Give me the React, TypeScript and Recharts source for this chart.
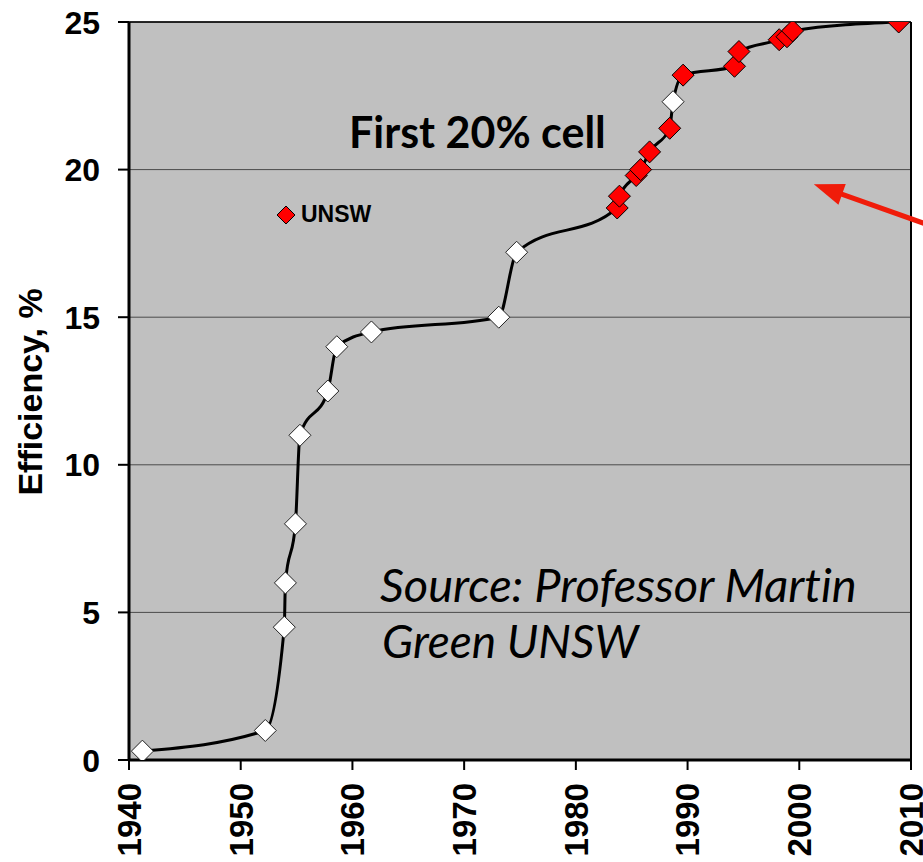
import React from 'react';
import {
  ComposedChart,
  Line,
  Scatter,
  XAxis,
  YAxis,
  CartesianGrid,
  ReferenceLine,
  Legend,
} from 'recharts';

// ---- data ----
const otherYears = [1941.2, 1952.2, 1953.9, 1954.0, 1954.9, 1955.3, 1957.8, 1958.6, 1961.7, 1973.1, 1974.7, 1988.7];
const otherEff = [0.3, 1.0, 4.5, 6.0, 8.0, 11.0, 12.5, 14.0, 14.5, 15.0, 17.2, 22.3];

const unswYears = [1983.7, 1983.9, 1985.4, 1985.8, 1986.6, 1988.4, 1989.6, 1994.2, 1994.6, 1998.2, 1998.9, 1999.4, 2008.9];
const unswEff = [18.7, 19.1, 19.8, 20.0, 20.6, 21.4, 23.2, 23.5, 24.0, 24.4, 24.5, 24.7, 25.0];

const xTicks = [1940, 1950, 1960, 1970, 1980, 1990, 2000, 2010];
const yTicks = [0, 5, 10, 15, 20, 25];

const arrowTail = { year: 2012.5, eff: 18.0 };
const arrowTip = { year: 2001.3, eff: 19.5 };

const otherData = otherYears.map((year, i) => ({ year, eff: otherEff[i] }));
const unswData = unswYears.map((year, i) => ({ year, eff: unswEff[i] }));
const curveData = [...otherData, ...unswData].sort((a, b) => a.year - b.year);

const ARIAL = '"Liberation Sans", Arial, sans-serif';
const CALIBRI = 'Lato, "Open Sans", sans-serif';

const Diamond = (fill: string, stroke: string, r: number) => (props: any) => {
  const { cx, cy } = props;
  if (cx == null || cy == null) return <g />;
  return (
    <path
      d={`M${cx},${cy - r}L${cx + r},${cy}L${cx},${cy + r}L${cx - r},${cy}Z`}
      fill={fill}
      stroke={stroke}
      strokeWidth={1}
    />
  );
};

const XTick = (props: any) => {
  const { x, y, payload } = props;
  const ty = y + 13;
  return (
    <text
      x={x}
      y={ty}
      transform={`rotate(-90 ${x} ${ty})`}
      textAnchor="end"
      dy="0.36em"
      fontFamily={ARIAL}
      fontWeight="bold"
      fontSize={33}
      fill="#000"
    >
      {payload.value}
    </text>
  );
};

const YTick = (props: any) => {
  const { x, y, payload } = props;
  return (
    <text
      x={x - 18}
      y={y}
      dy="0.36em"
      textAnchor="end"
      fontFamily={ARIAL}
      fontWeight="bold"
      fontSize={32}
      fill="#000"
    >
      {payload.value}
    </text>
  );
};

const YLabel = (props: any) => {
  const vb = props.viewBox || { x: 0, y: 22, width: 129, height: 738 };
  const cx = 42;
  const cy = vb.y + vb.height / 2 + 1;
  return (
    <text
      x={cx}
      y={cy}
      transform={`rotate(-90 ${cx} ${cy})`}
      textAnchor="middle"
      fontFamily={ARIAL}
      fontWeight="bold"
      fontSize={34}
      fill="#000"
    >
      Efficiency, %
    </text>
  );
};

const ArrowShape = (props: any) => {
  const { x1, y1, x2, y2 } = props;
  const dx = x2 - x1;
  const dy = y2 - y1;
  const len = Math.sqrt(dx * dx + dy * dy);
  const ux = dx / len;
  const uy = dy / len;
  const headLen = 30;
  const headHalf = 11;
  const bx = x2 - ux * headLen;
  const by = y2 - uy * headLen;
  const px = -uy;
  const py = ux;
  return (
    <g>
      <line x1={x1} y1={y1} x2={bx + ux * 2} y2={by + uy * 2} stroke="#f01c0a" strokeWidth={5} />
      <path
        d={`M${x2},${y2}L${bx + px * headHalf},${by + py * headHalf}L${bx - px * headHalf},${by - py * headHalf}Z`}
        fill="#f01c0a"
      />
    </g>
  );
};

const LegendContent = () => (
  <div style={{ display: 'flex', alignItems: 'center', fontFamily: ARIAL, fontWeight: 'bold', fontSize: 23, color: '#000' }}>
    <svg width={20} height={20} style={{ display: 'block' }}>
      <path d="M10,1L19,10L10,19L1,10Z" fill="#ff0000" stroke="#000" strokeWidth={1} />
    </svg>
    <span style={{ marginLeft: 5 }}>UNSW</span>
  </div>
);

const noLig = { fontVariantLigatures: 'none' as const, fontFeatureSettings: '"liga" 0, "clig" 0' };

export default function App() {
  return (
    <div style={{ position: 'absolute', left: 0, top: 0, width: 923, height: 862, background: '#fff', overflow: 'hidden' }}>
      <ComposedChart width={923} height={862} margin={{ top: 22, right: 12, bottom: 0, left: 0 }}>
        <CartesianGrid fill="#c0c0c0" stroke="#4a4a4a" strokeWidth={1} vertical={false} />
        <XAxis
          type="number"
          dataKey="year"
          domain={[1940, 2010]}
          ticks={xTicks}
          interval={0}
          allowDataOverflow
          height={102}
          tickSize={10}
          tickMargin={0}
          tick={<XTick />}
          axisLine={{ stroke: '#000', strokeWidth: 3 }}
          tickLine={{ stroke: '#000', strokeWidth: 2 }}
        />
        <YAxis
          type="number"
          dataKey="eff"
          domain={[0, 25]}
          ticks={yTicks}
          interval={0}
          allowDataOverflow
          width={129}
          tickSize={11}
          tickMargin={0}
          tick={<YTick />}
          axisLine={{ stroke: '#000', strokeWidth: 3 }}
          tickLine={{ stroke: '#000', strokeWidth: 2 }}
          label={{ content: (p: any) => <YLabel {...p} /> }}
        />
        <ReferenceLine y={25} stroke="#000" strokeWidth={1.5} />
        <ReferenceLine x={2010} stroke="#000" strokeWidth={2} />
        <Line
          data={curveData}
          dataKey="eff"
          type="monotone"
          stroke="#000"
          strokeWidth={3}
          dot={false}
          activeDot={false}
          isAnimationActive={false}
        />
        <Scatter data={otherData} dataKey="eff" shape={Diamond('#ffffff', '#222', 11)} isAnimationActive={false} legendType="none" />
        <Scatter data={unswData} dataKey="eff" name="UNSW" shape={Diamond('#ff0000', '#000', 11)} isAnimationActive={false} />
        <ReferenceLine
          segment={[
            { x: arrowTail.year, y: arrowTail.eff },
            { x: arrowTip.year, y: arrowTip.eff },
          ]}
          ifOverflow="visible"
          shape={(p: any) => <ArrowShape {...p} />}
        />
        <Legend
          layout="vertical"
          align="center"
          verticalAlign="middle"
          content={() => <LegendContent />}
          wrapperStyle={{ position: 'absolute', left: 276, top: 201, width: 'auto', height: 'auto' }}
        />
      </ComposedChart>
      <svg
        width={923}
        height={862}
        style={{ position: 'absolute', left: 0, top: 0, pointerEvents: 'none' }}
      >
        <text x={349} y={148} fontFamily={CALIBRI} fontWeight="bold" fontSize={43} fill="#000" style={noLig}>
          First 20% cell
        </text>
        <text x={380} y={602} fontFamily={CALIBRI} fontStyle="italic" fontSize={47} fill="#000" style={noLig}>
          Source: Professor Martin
        </text>
        <text x={382} y={658} fontFamily={CALIBRI} fontStyle="italic" fontSize={46} fill="#000" style={noLig}>
          Green UNSW
        </text>
      </svg>
    </div>
  );
}
